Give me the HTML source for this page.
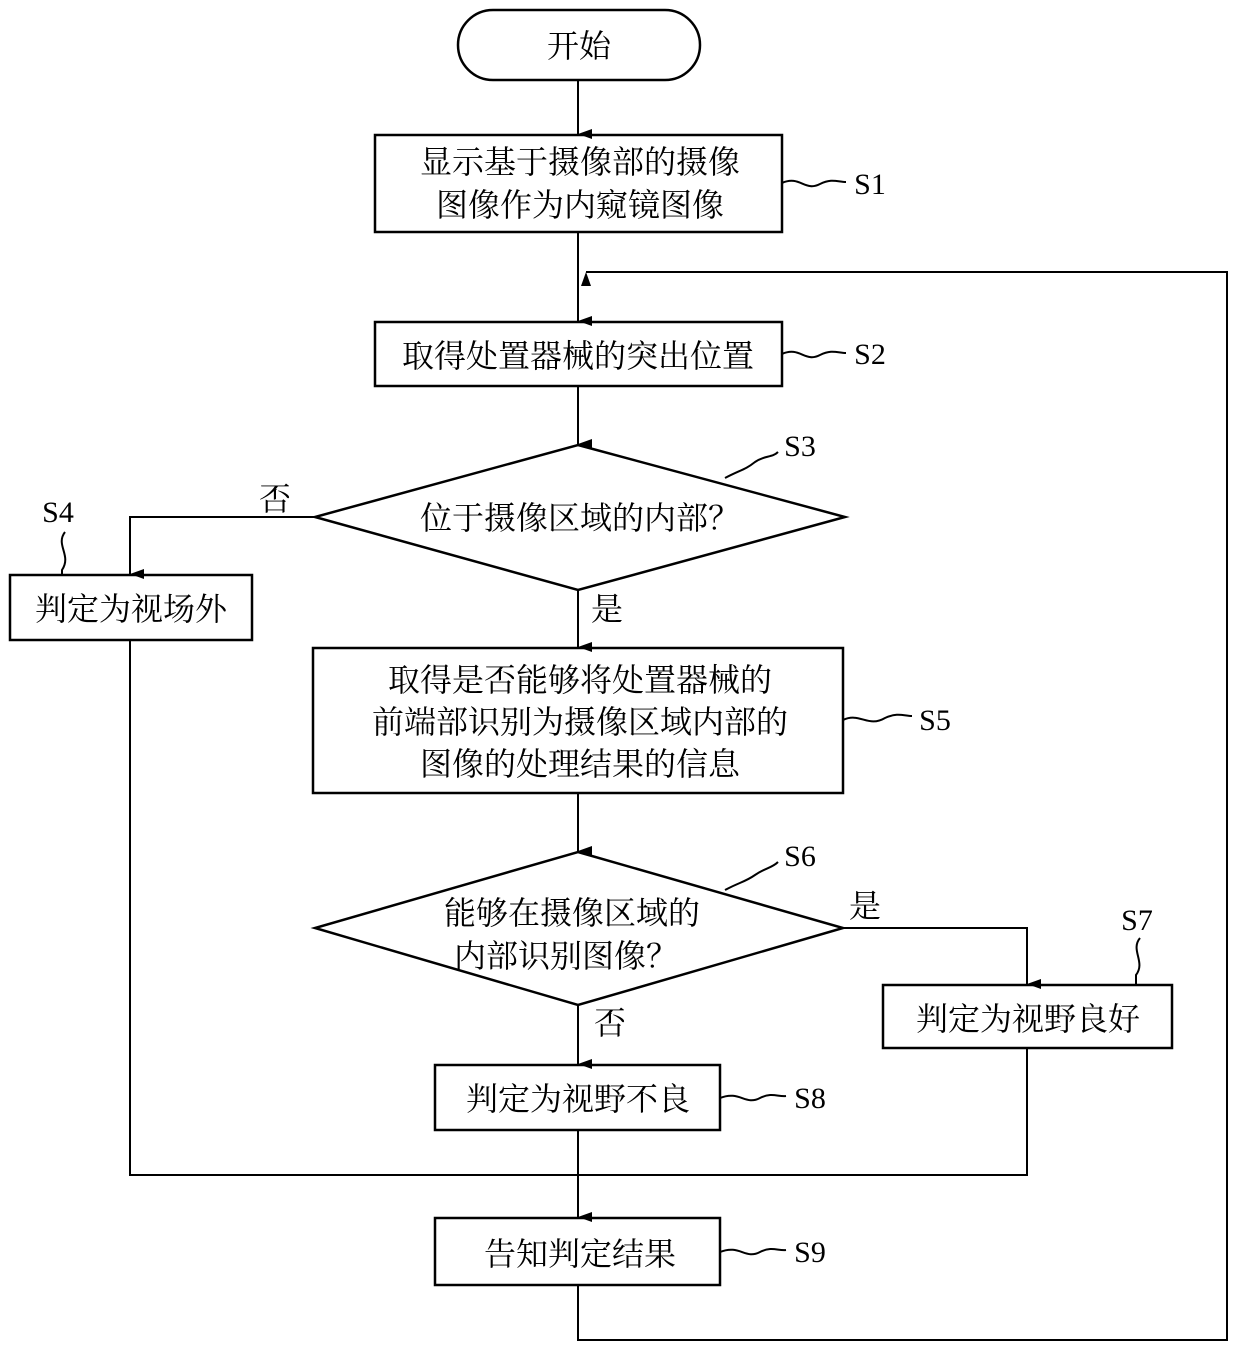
<!DOCTYPE html>
<html><head><meta charset="utf-8"><style>
html,body{margin:0;padding:0;background:#fff;}
svg text{font-family:"Liberation Serif","Noto Serif CJK SC","Noto Sans CJK SC",serif;fill:#000;}
.l{font-family:"Liberation Sans",sans-serif;font-size:30px;}
</style></head><body>
<svg width="1240" height="1349" viewBox="0 0 1240 1349" xmlns="http://www.w3.org/2000/svg">
<defs><marker id="a" markerWidth="10" markerHeight="14" refX="5" refY="14" orient="auto-start-reverse" markerUnits="userSpaceOnUse" viewBox="0 0 10 14"><path d="M0,0 L5,14 L10,0 Z" fill="#000"/></marker></defs>
<g stroke="#000" stroke-width="2.5" fill="none">
<rect x="458" y="10" width="242" height="70" rx="35"/>
<rect x="375" y="135" width="407" height="97"/>
<rect x="375" y="322" width="407" height="64"/>
<polygon points="578,445 845,517 578,590 315,517"/>
<rect x="10" y="575" width="242" height="65"/>
<rect x="313" y="648" width="530" height="145"/>
<polygon points="578,852 843,928 578,1005 315,928"/>
<rect x="883" y="985" width="289" height="63"/>
<rect x="435" y="1065" width="285" height="65"/>
<rect x="435" y="1218" width="285" height="67"/>
</g>
<g stroke="#000" stroke-width="2" fill="none">
<line x1="578" y1="80" x2="578" y2="134" marker-end="url(#a)"/>
<line x1="578" y1="232" x2="578" y2="321" marker-end="url(#a)"/>
<polyline points="578,1285 578,1340 1227,1340 1227,272 586,272" marker-end="url(#a)"/>
<line x1="578" y1="386" x2="578" y2="444" marker-end="url(#a)"/>
<polyline points="315,517 130,517 130,574" marker-end="url(#a)"/>
<polyline points="130,640 130,1175 578,1175"/>
<line x1="578" y1="590" x2="578" y2="647" marker-end="url(#a)"/>
<line x1="578" y1="793" x2="578" y2="851" marker-end="url(#a)"/>
<polyline points="843,928 1027,928 1027,984" marker-end="url(#a)"/>
<polyline points="1027,1048 1027,1175 578,1175"/>
<line x1="578" y1="1005" x2="578" y2="1064" marker-end="url(#a)"/>
<line x1="578" y1="1130" x2="578" y2="1217" marker-end="url(#a)"/>
<path d="M782,183 C800,175 805,192 820,184 C832,178 838,182 846,182"/>
<path d="M782,354 C800,346 805,363 820,355 C832,349 838,353 846,353"/>
<path d="M725,478 C740,470 745,470 755,462 C765,455 772,458 778,452"/>
<path d="M65,532 C55,545 72,555 62,570 L62,575"/>
<path d="M843,720 C860,712 868,728 885,718 C898,712 904,716 912,716"/>
<path d="M725,890 C740,882 745,882 755,875 C765,868 772,868 778,862"/>
<path d="M1140,938 C1130,950 1146,962 1136,975 L1136,985"/>
<path d="M720,1098 C740,1090 745,1106 760,1098 C772,1092 778,1097 786,1096"/>
<path d="M720,1252 C740,1244 745,1260 760,1252 C772,1246 778,1251 786,1250"/>
</g>
<g font-size="32" text-anchor="middle">
<text x="579" y="57">开始</text>
<text x="580" y="173">显示基于摄像部的摄像</text>
<text x="580" y="216">图像作为内窥镜图像</text>
<text x="578" y="367">取得处置器械的突出位置</text>
<text x="580" y="529">位于摄像区域的内部？</text>
<text x="275" y="510">否</text>
<text x="131" y="620">判定为视场外</text>
<text x="607" y="620">是</text>
<text x="580" y="691">取得是否能够将处置器械的</text>
<text x="580" y="733">前端部识别为摄像区域内部的</text>
<text x="580" y="775">图像的处理结果的信息</text>
<text x="572" y="924">能够在摄像区域的</text>
<text x="566" y="967">内部识别图像？</text>
<text x="865" y="917">是</text>
<text x="1028" y="1030">判定为视野良好</text>
<text x="610" y="1034">否</text>
<text x="578" y="1110">判定为视野不良</text>
<text x="580" y="1265">告知判定结果</text>
</g>
<g class="l" text-anchor="middle">
<text x="870" y="194">S1</text>
<text x="870" y="364">S2</text>
<text x="800" y="456">S3</text>
<text x="58" y="522">S4</text>
<text x="935" y="730">S5</text>
<text x="800" y="866">S6</text>
<text x="1137" y="930">S7</text>
<text x="810" y="1108">S8</text>
<text x="810" y="1262">S9</text>
</g>
</svg>
</body></html>
